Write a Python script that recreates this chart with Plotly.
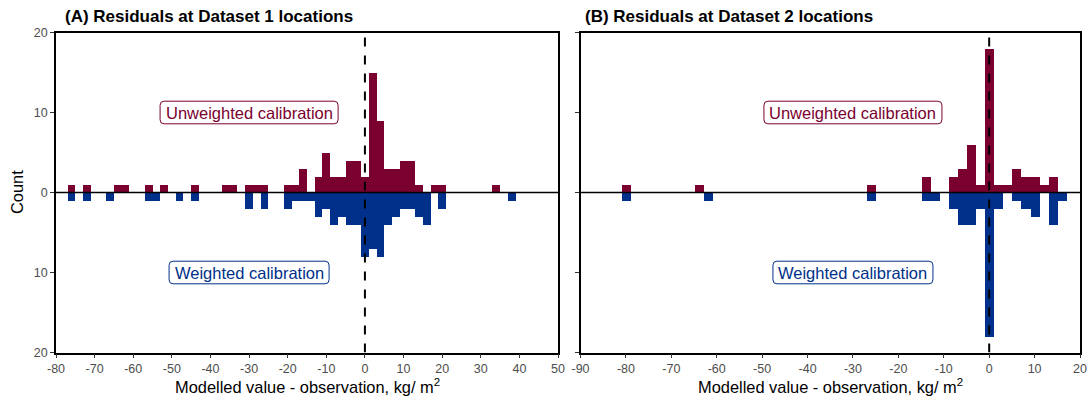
import plotly.graph_objects as go

# Bin centres (bin width 2) and counts for each calibration
BIN_WIDTH = 2

# Panel A: Dataset 1 locations
a_unweighted_x = [-76, -72, -64, -62, -56, -52, -44, -36, -34, -30, -28, -26,
                  -20, -18, -16, -12, -10, -8, -6, -4, -2, 0, 2, 4, 6, 8, 10, 12, 14, 18, 20, 34]
a_unweighted_n = [1, 1, 1, 1, 1, 1, 1, 1, 1, 1, 1, 1,
                  1, 1, 3, 2, 5, 2, 2, 4, 4, 2, 15, 9, 3, 3, 4, 4, 1, 1, 1, 1]
a_weighted_x = [-76, -72, -66, -56, -54, -48, -44, -30, -26,
                -20, -18, -16, -14, -12, -10, -8, -6, -4, -2, 0, 2, 4, 6, 8, 10, 12, 14, 16, 20, 38]
a_weighted_n = [1, 1, 1, 1, 1, 1, 1, 2, 2,
                2, 1, 1, 1, 3, 2, 4, 3, 4, 4, 8, 7, 8, 4, 3, 2, 2, 3, 4, 2, 1]

# Panel B: Dataset 2 locations
b_unweighted_x = [-80, -64, -26, -14, -8, -6, -4, -2, 0, 2, 4, 6, 8, 10, 12, 14]
b_unweighted_n = [1, 1, 1, 2, 2, 3, 6, 1, 18, 1, 1, 3, 2, 2, 1, 2]
b_weighted_x = [-80, -62, -26, -14, -12, -8, -6, -4, -2, 0, 2, 6, 8, 10, 14, 16]
b_weighted_n = [1, 1, 1, 1, 1, 2, 4, 4, 2, 18, 2, 1, 2, 3, 4, 1]

panel_titles = ["(A) Residuals at Dataset 1 locations", "(B) Residuals at Dataset 2 locations"]
x_ranges = [[-80, 50], [-90, 20]]
x_tickvals = [list(range(-80, 51, 10)), list(range(-90, 21, 10))]
y_tickvals = [-20, -10, 0, 10, 20]
y_ticktext = ["20", "10", "0", "10", "20"]
x_title = "Modelled value - observation, kg/ m<sup>2</sup>"

RED = "#7A0030"
BLUE = "#00308A"
W, H = 1092, 400

fig = go.Figure()

def px_x(p):
    return p / W

def px_y(p):
    return 1 - p / H

panels = [
    ("x", "y", a_unweighted_x, a_unweighted_n, a_weighted_x, a_weighted_n),
    ("x2", "y2", b_unweighted_x, b_unweighted_n, b_weighted_x, b_weighted_n),
]
for xa, ya, ux, un, wx, wn in panels:
    fig.add_trace(go.Bar(x=ux, y=un, width=BIN_WIDTH, marker=dict(color=RED, line=dict(width=0)),
                         xaxis=xa, yaxis=ya, hoverinfo="x+y"))
    fig.add_trace(go.Bar(x=wx, y=[-v for v in wn], width=BIN_WIDTH,
                         marker=dict(color=BLUE, line=dict(width=0)),
                         xaxis=xa, yaxis=ya, hoverinfo="x+y"))

x_domains = [[px_x(56), px_x(558)], [px_x(580.5), px_x(1080)]]
y_domain = [px_y(352.5), px_y(32.5)]

axis_common = dict(showline=True, mirror=True, linecolor="black", linewidth=1.5,
                   ticks="outside", ticklen=4, tickwidth=1, tickcolor="#333333",
                   showgrid=False, zeroline=False, automargin=False,
                   tickfont=dict(family="Liberation Sans, Arial", size=12.5, color="#4D4D4D"))

fig.update_layout(
    width=W, height=H,
    margin=dict(l=0, r=0, t=0, b=0),
    paper_bgcolor="white", plot_bgcolor="white",
    barmode="overlay", bargap=0, showlegend=False,
    xaxis=dict(domain=x_domains[0], range=x_ranges[0], tickvals=x_tickvals[0],
               ticktext=[str(v) for v in x_tickvals[0]], anchor="y", **axis_common),
    xaxis2=dict(domain=x_domains[1], range=x_ranges[1], tickvals=x_tickvals[1],
                ticktext=[str(v) for v in x_tickvals[1]], anchor="y2", **axis_common),
    yaxis=dict(domain=y_domain, range=[-20, 20], tickvals=y_tickvals, ticktext=y_ticktext,
               anchor="x", **axis_common),
    yaxis2=dict(domain=y_domain, range=[-20, 20], tickvals=y_tickvals, ticktext=y_ticktext,
                showticklabels=False, anchor="x2", **axis_common),
)

# zero baseline and dashed reference line at 0 in each panel
for xa, ya, rng in [("x", "y", x_ranges[0]), ("x2", "y2", x_ranges[1])]:
    fig.add_shape(type="line", xref=xa, yref=ya, x0=rng[0], x1=rng[1], y0=0, y1=0,
                  line=dict(color="black", width=1.5), layer="above")
    fig.add_shape(type="line", xref=xa, yref=ya, x0=0, x1=0, y0=-20, y1=20,
                  line=dict(color="black", width=2, dash="dash"), layer="above")

def rounded_box(hw, hh, r):
    return (f"M {-hw + r},{-hh} L {hw - r},{-hh} Q {hw},{-hh} {hw},{-hh + r} "
            f"L {hw},{hh - r} Q {hw},{hh} {hw - r},{hh} L {-hw + r},{hh} "
            f"Q {-hw},{hh} {-hw},{hh - r} L {-hw},{-hh + r} Q {-hw},{-hh} {-hw + r},{-hh} Z")

label_font = "Liberation Sans, Arial"
labels = [("Unweighted calibration", 10, RED, 89), ("Weighted calibration", -10, BLUE, 80)]
for xa, ya in [("x", "y"), ("x2", "y2")]:
    for text, yv, col, hw in labels:
        fig.add_shape(type="path", xref=xa, yref=ya, xsizemode="pixel", ysizemode="pixel",
                      xanchor=-30, yanchor=yv, path=rounded_box(hw, 11.3, 4),
                      line=dict(color=col, width=1), fillcolor="white", layer="above")
        fig.add_annotation(x=-30, y=yv, xref=xa, yref=ya, text=text, showarrow=False,
                           font=dict(family=label_font, size=16.5, color=col),
                           xanchor="center", yanchor="middle")

# panel titles
for title, x0 in zip(panel_titles, [63, 583]):
    fig.add_annotation(x=px_x(x0), y=px_y(17), xref="paper", yref="paper",
                       text=f"<b>{title}</b>", showarrow=False, xanchor="left", yanchor="middle",
                       font=dict(family=label_font, size=17, color="black"))

# axis titles
for cx in [307, 830]:
    fig.add_annotation(x=px_x(cx), y=px_y(386), xref="paper", yref="paper", text=x_title,
                       showarrow=False, xanchor="center", yanchor="middle",
                       font=dict(family=label_font, size=16.4, color="black"))
fig.add_annotation(x=px_x(17), y=px_y(192), xref="paper", yref="paper", text="Count",
                   showarrow=False, textangle=-90, xanchor="center", yanchor="middle",
                   font=dict(family=label_font, size=16.4, color="black"))

fig.write_html("out.html", post_script="document.body.style.margin='0';")
